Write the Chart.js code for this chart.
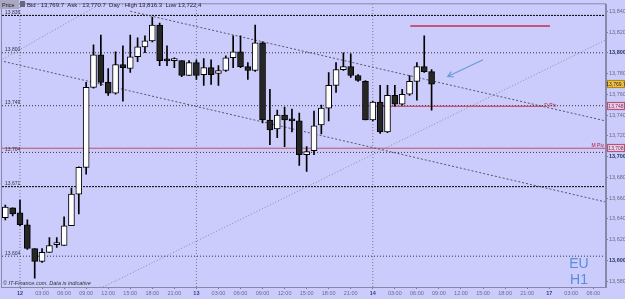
<!DOCTYPE html>
<html>
<head>
<meta charset="utf-8">
<script src="https://cdn.jsdelivr.net/npm/chart.js@4.4.0/dist/chart.umd.min.js"></script>
<style>
  html, body { margin: 0; padding: 0; background: #ccccfc; }
  #wrap { width: 625px; height: 299px; }
</style>
</head>
<body>
<div id="wrap"><canvas id="priceChart" width="625" height="299"></canvas></div>
<script>
// H1 candles, x = hours since the 12th 00:00
const hours = [-2, -1, 0, 1, 2, 3, 4, 5, 6, 7, 8, 9, 10, 11, 12, 13, 14, 15, 16, 17, 18, 19, 20, 21, 22, 23,
  24, 25, 26, 27, 28, 29, 30, 31, 32, 33, 34, 35, 36, 37, 38, 39, 40, 41, 42, 43, 44, 45, 46, 47,
  48, 49, 50, 51, 52, 53, 54, 55, 56];
const opens = [13641.0, 13650.5, 13645.7, 13634.3, 13611.4, 13599.0, 13607.6, 13615.2, 13614.3, 13633.3,
  13663.8, 13689.5, 13766.7, 13798.1, 13771.4, 13761.0, 13788.6, 13784.8, 13796.2, 13805.7,
  13811.4, 13826.7, 13792.4, 13792.4, 13792.4, 13778.1, 13790.5, 13779.0, 13785.7, 13780.0,
  13782.9, 13795.2, 13801.0, 13786.7, 13782.9, 13809.5, 13735.2, 13726.7, 13740.0, 13735.2,
  13734.3, 13701.9, 13705.7, 13730.5, 13746.7, 13768.6, 13783.8, 13786.7, 13778.1, 13772.4,
  13735.2, 13752.4, 13723.8, 13759.0, 13750.5, 13760.0, 13772.4, 13786.7, 13781.9];
const highs = [13653.3, 13650.5, 13658.1, 13639.0, 13611.4, 13611.4, 13621.9, 13621.9, 13641.9, 13669.5,
  13690.0, 13771.4, 13807.6, 13817.1, 13784.8, 13801.0, 13806.7, 13817.1, 13814.3, 13816.2,
  13834.3, 13828.6, 13806.7, 13795.2, 13792.4, 13792.4, 13793.3, 13794.3, 13793.3, 13787.6,
  13797.0, 13816.2, 13816.2, 13790.5, 13826.7, 13810.5, 13764.8, 13744.8, 13747.6, 13745.7,
  13741.9, 13709.5, 13743.8, 13749.5, 13781.0, 13790.5, 13800.0, 13799.0, 13779.0, 13773.3,
  13753.3, 13768.6, 13768.6, 13768.6, 13764.8, 13778.1, 13790.5, 13816.2, 13783.8];
const lows = [13639.0, 13642.9, 13633.3, 13610.5, 13582.9, 13598.1, 13607.6, 13612.4, 13614.3, 13633.3,
  13644.8, 13682.9, 13766.0, 13768.6, 13759.0, 13760.0, 13753.3, 13781.0, 13791.4, 13800.0,
  13810.5, 13787.6, 13787.6, 13785.7, 13777.0, 13778.1, 13774.3, 13768.6, 13769.5, 13768.6,
  13782.0, 13785.7, 13785.7, 13774.3, 13782.0, 13732.4, 13711.4, 13718.1, 13709.5, 13723.8,
  13691.4, 13685.7, 13701.9, 13721.9, 13734.3, 13761.9, 13782.9, 13776.2, 13772.4, 13735.2,
  13734.3, 13722.4, 13723.0, 13748.6, 13749.5, 13759.0, 13754.3, 13781.0, 13744.8];
const closes = [13651.4, 13644.8, 13634.3, 13611.4, 13599.0, 13607.6, 13614.3, 13615.5, 13633.3, 13663.8,
  13689.5, 13766.7, 13798.1, 13771.4, 13761.0, 13788.6, 13785.7, 13796.2, 13805.7, 13811.4,
  13826.7, 13792.4, 13792.2, 13792.6, 13778.1, 13790.5, 13778.1, 13785.7, 13779.0, 13782.9,
  13795.2, 13801.0, 13786.7, 13782.9, 13809.5, 13735.2, 13725.7, 13740.0, 13735.2, 13734.3,
  13701.9, 13704.8, 13729.5, 13746.7, 13768.6, 13783.8, 13786.7, 13778.1, 13773.3, 13735.2,
  13752.4, 13723.8, 13759.0, 13750.5, 13760.0, 13772.4, 13786.7, 13781.9, 13769.7];

// axes
const yTicks = [13580, 13600, 13620, 13640, 13660, 13680, 13700, 13720, 13740, 13760, 13780, 13800, 13820, 13840];
const xTicks = [0, 3, 6, 9, 12, 15, 18, 21, 24, 27, 30, 33, 36, 39, 42, 45, 48, 51, 54, 57, 60, 63, 66, 69, 72, 75, 78];
const dayNames = { 0: '12', 24: '13', 48: '14', 72: '17' };
const dayStarts = [0, 24, 48];

// drawn levels and lines (hour, price)
const levels = [13836, 13800, 13749, 13704, 13671, 13604];
const strongLevels = [13836, 13671];
const trendUpper = [[15.0, 13840.0], [79.7, 13734.3]];
const trendLower = [[-2.7, 13792.4], [79.7, 13656.2]];
const trendRise = [[11.3, 13574.3], [79.7, 13812.4]];
const channelRise = [[-2.7, 13792.4], [10.6, 13845.7]];
const resistance = [[53.1, 13825.7], [72.1, 13825.7]];
const dayPivot = [[48.0, 13748.5], [71.2, 13748.5]];
const monthPivot = 13708;
const arrow = [[63.0, 13793.3], [58.2, 13777.1]];
const lastPrice = 13769.7;

const X_MIN = -2.45, X_MAX = 79.73, Y_MIN = 13574.3, Y_MAX = 13846.7;

const fmt = (v, d) => v.toLocaleString('en-US', { minimumFractionDigits: d || 0, maximumFractionDigits: d || 0 });
const pts = arr => arr.map(p => ({ x: p[0], y: p[1] }));
const tickVal = c => (c && c.tick ? c.tick.value : NaN);

function lineSet(data, color, dash, width) {
    return {
        type: 'line', data: data, borderColor: color, borderWidth: width || 1, borderDash: dash,
        pointRadius: 0, fill: false, tension: 0, order: 3
    };
}

const datasets = [
    {
        // candle bodies
        data: hours.map((h, i) => ({ x: h, y: [opens[i], closes[i]] })),
        backgroundColor: hours.map((h, i) => closes[i] >= opens[i] ? '#ffffff' : '#262626'),
        borderColor: '#000', borderWidth: 1, borderSkipped: false,
        barThickness: 6, minBarLength: 2, grouped: false, order: 0
    },
    {
        // wicks
        data: hours.map((h, i) => ({ x: h, y: [lows[i], highs[i]] })),
        backgroundColor: '#000', borderWidth: 0,
        barThickness: 1, grouped: false, order: 1
    },
    lineSet(pts(trendUpper), '#55556a', [2, 2]),
    lineSet(pts(trendLower), '#55556a', [2, 2]),
    lineSet(pts(trendRise), '#8a8aa8', [1, 2]),
    lineSet(pts(channelRise), '#8a8aa8', [1, 2]),
    lineSet(pts(resistance), '#c0304a', [], 1.5),
    lineSet(pts(dayPivot), '#c0304a', [], 1),
    lineSet([{ x: X_MIN, y: monthPivot }, { x: X_MAX, y: monthPivot }], '#c05068', [], 1)
];
levels.forEach(v => {
    const strong = strongLevels.includes(v);
    datasets.push(lineSet([{ x: X_MIN, y: v }, { x: X_MAX, y: v }], strong ? '#000' : '#333344', strong ? [2, 1] : [1, 2]));
});
dayStarts.forEach(h => {
    datasets.push(lineSet([{ x: h, y: Y_MIN }, { x: h, y: Y_MAX }], '#77778a', [1, 2]));
});

const overlay = {
    id: 'overlay',
    beforeDraw(chart) {
        const { ctx, width, height } = chart;
        ctx.save();
        ctx.fillStyle = '#ccccfc';
        ctx.fillRect(0, 0, width, height);
        ctx.restore();
    },
    afterDraw(chart) {
        const { ctx, chartArea: a, scales: { x, y } } = chart;
        ctx.save();
        // frame
        ctx.strokeStyle = '#8888aa';
        ctx.lineWidth = 1;
        ctx.strokeRect(a.left - 0.5, a.top - 0.5, a.right - a.left, a.bottom - a.top + 1);

        // level labels on the left
        ctx.font = '5px Arial';
        ctx.fillStyle = '#333344';
        ctx.textBaseline = 'bottom';
        ctx.textAlign = 'left';
        levels.forEach(v => ctx.fillText(fmt(v), a.left + 3, y.getPixelForValue(v) - 0.5));

        // pivot labels
        ctx.fillStyle = '#b02040';
        ctx.textBaseline = 'middle';
        ctx.fillText('D Piv', x.getPixelForValue(dayPivot[1][0]) + 1, y.getPixelForValue(dayPivot[1][1]) - 1);
        ctx.textAlign = 'right';
        ctx.textBaseline = 'bottom';
        ctx.fillText('M Piv', a.right - 2, y.getPixelForValue(monthPivot) - 0.5);

        // arrow
        const x1 = x.getPixelForValue(arrow[0][0]), y1 = y.getPixelForValue(arrow[0][1]);
        const x2 = x.getPixelForValue(arrow[1][0]), y2 = y.getPixelForValue(arrow[1][1]);
        const ang = Math.atan2(y2 - y1, x2 - x1);
        ctx.strokeStyle = '#6a9ad8';
        ctx.lineWidth = 1.2;
        ctx.beginPath();
        ctx.moveTo(x1, y1); ctx.lineTo(x2, y2);
        ctx.moveTo(x2 - 6 * Math.cos(ang - 0.5), y2 - 6 * Math.sin(ang - 0.5));
        ctx.lineTo(x2, y2);
        ctx.lineTo(x2 - 6 * Math.cos(ang + 0.5), y2 - 6 * Math.sin(ang + 0.5));
        ctx.stroke();

        // price tags on the axis
        const tags = [
            { v: lastPrice, text: fmt(lastPrice, 1), fill: '#f2c744', stroke: '#b08a20', color: '#222' },
            { v: dayPivot[0][1], text: '13,748', fill: '#dcd8f6', stroke: '#c05070', color: '#a02040' },
            { v: monthPivot, text: fmt(monthPivot), fill: '#dcd8f6', stroke: '#c05070', color: '#a02040' }
        ];
        ctx.font = '5px Arial';
        ctx.textAlign = 'center';
        ctx.textBaseline = 'middle';
        tags.forEach(t => {
            const py = Math.round(y.getPixelForValue(t.v));
            ctx.fillStyle = t.fill;
            ctx.fillRect(a.right + 1, py - 4, 18, 8);
            ctx.strokeStyle = t.stroke;
            ctx.strokeRect(a.right + 1.5, py - 3.5, 17, 7);
            ctx.fillStyle = t.color;
            ctx.fillText(t.text, a.right + 10, py + 0.5);
        });

        // header
        ctx.fillStyle = '#a8a8c0';
        ctx.fillRect(0, 0, 19, 9);
        ctx.fillStyle = '#222';
        ctx.font = '5.5px Arial';
        ctx.textAlign = 'left';
        ctx.fillText('Price', 2, 5);
        ctx.fillStyle = '#666680';
        ctx.fillRect(20, 1, 5, 6);
        ctx.fillStyle = '#222233';
        ctx.font = '6px Arial';
        ctx.fillText('Bid : 13,769.7  Ask : 13,770.7  Day : High 13,816.3  Low 13,722.4', 27, 5);

        // watermark
        ctx.font = 'italic 5.5px Arial';
        ctx.fillStyle = '#333';
        ctx.textBaseline = 'bottom';
        ctx.fillText('\u00a9 IT-Finance.com. Data is indicative', a.left + 1, a.bottom - 1);

        // symbol / timeframe
        ctx.font = '14px Arial';
        ctx.fillStyle = '#5b8bd9';
        ctx.textAlign = 'center';
        ctx.textBaseline = 'middle';
        ctx.fillText('EU', 579, 264);
        ctx.fillText('H1', 579, 280);
        ctx.restore();
    }
};

const ctx = document.getElementById('priceChart').getContext('2d');
new Chart(ctx, {
    type: 'bar',
    data: { datasets: datasets },
    plugins: [overlay],
    options: {
        responsive: false,
        animation: false,
        layout: { padding: { left: 2, top: 1, right: 0, bottom: 0 } },
        plugins: { legend: { display: false }, tooltip: { enabled: false } },
        scales: {
            x: {
                type: 'linear', min: X_MIN, max: X_MAX, offset: false,
                afterBuildTicks: s => { s.ticks = xTicks.map(v => ({ value: v })); },
                afterFit: s => { s.height = 12; },
                grid: { drawOnChartArea: false, drawTicks: true, tickLength: 2, color: '#7777a0', offset: false },
                border: { color: '#8888aa' },
                ticks: {
                    autoSkip: false, maxRotation: 0, padding: 1,
                    callback: v => dayNames[v] !== undefined ? dayNames[v] : String(v % 24).padStart(2, '0') + ':00',
                    font: c => ({ family: 'Arial', size: 5.5, weight: dayNames[tickVal(c)] ? 'bold' : 'normal' }),
                    color: c => dayNames[tickVal(c)] ? '#334488' : '#6a6a88'
                }
            },
            y: {
                position: 'right', min: Y_MIN, max: Y_MAX,
                afterBuildTicks: s => { s.ticks = yTicks.map(v => ({ value: v })); },
                afterFit: s => { s.width = 19; },
                grid: { drawOnChartArea: false, drawTicks: true, tickLength: 2, color: '#7777a0' },
                border: { color: '#8888aa' },
                ticks: {
                    padding: 1,
                    callback: v => fmt(v),
                    font: c => ({ family: 'Arial', size: 5.5, weight: tickVal(c) % 100 === 0 ? 'bold' : 'normal' }),
                    color: c => tickVal(c) % 100 === 0 ? '#223366' : '#6a6a88'
                }
            }
        }
    }
});
</script>
</body>
</html>
